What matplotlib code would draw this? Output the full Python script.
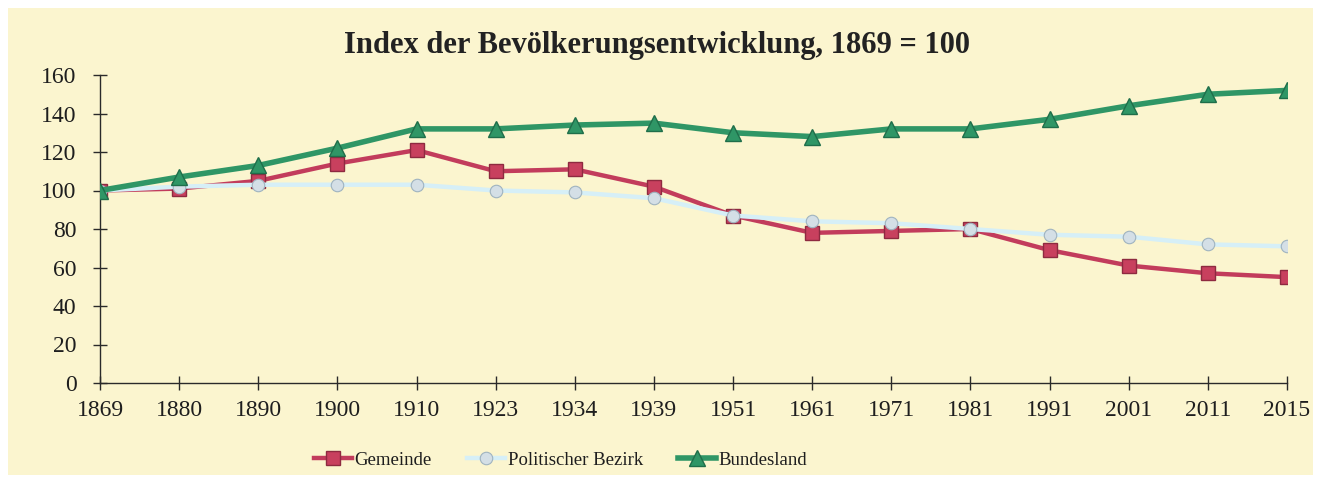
import matplotlib
matplotlib.use("Agg")
import matplotlib.pyplot as plt
from matplotlib.patches import Rectangle

years = ['1869', '1880', '1890', '1900', '1910', '1923', '1934', '1939',
         '1951', '1961', '1971', '1981', '1991', '2001', '2011', '2015']
gemeinde = [100, 101, 105, 114, 121, 110, 111, 102, 87, 78, 79, 80, 69, 61, 57, 55]
bezirk = [100, 102, 103, 103, 103, 100, 99, 96, 87, 84, 83, 80, 77, 76, 72, 71]
bundesland = [100, 107, 113, 122, 132, 132, 134, 135, 130, 128, 132, 132, 137, 144, 150, 152]

plt.rcParams['font.family'] = ['Liberation Serif', 'DejaVu Serif']

fig = plt.figure(figsize=(13.35, 4.79), dpi=100)
fig.patch.set_facecolor('white')
# pale yellow panel behind the chart
fig.patches.append(Rectangle((8 / 1335, 4 / 479), 1305 / 1335, 467 / 479,
                             transform=fig.transFigure, facecolor='#fbf5cf',
                             edgecolor='none', zorder=-5))

ax = fig.add_axes([100 / 1335, 1 - 383 / 479, 1187 / 1335, 308 / 479])
ax.set_facecolor('none')

x = list(range(len(years)))
ax.plot(x, gemeinde, color='#c23c5c', lw=3.2, marker='s', ms=10,
        mfc='#c8405e', mec='#8e2a40', mew=1, label='Gemeinde', zorder=3)
ax.plot(x, bezirk, color='#d6eff7', lw=3.2, marker='o', ms=9,
        mfc='#d4dfe6', mec='#9fb3bf', mew=0.8, label='Politischer Bezirk', zorder=4)
ax.plot(x, bundesland, color='#2f9666', lw=4, marker='^', ms=11,
        mfc='#2f9666', mec='#1f6e4a', mew=1, label='Bundesland', zorder=5)

ax.set_xlim(0, len(years) - 1)
ax.set_ylim(0, 160)
ax.set_xticks(x)
ax.set_xticklabels(years)
ax.set_yticks(range(0, 161, 20))
for s in ['top', 'right']:
    ax.spines[s].set_visible(False)
for s in ['left', 'bottom']:
    ax.spines[s].set_color('#2a2a2a')
    ax.spines[s].set_linewidth(1)
ax.tick_params(direction='inout', length=10, width=1, color='#2a2a2a',
               labelsize=17, labelcolor='#1e1e1e')
ax.tick_params(axis='x', pad=7)
ax.tick_params(axis='y', pad=12)

fig.text(0.492, 1 - 45 / 479, 'Index der Bevölkerungsentwicklung, 1869 = 100',
         ha='center', va='center', fontsize=22, fontweight='bold', color='#222222')

fig.legend(loc='center', bbox_to_anchor=(0.42, 1 - 460 / 479), ncol=3,
           frameon=False, fontsize=13.5, handlelength=2.0, handletextpad=0.15,
           columnspacing=1.9, labelcolor='#1e1e1e')

fig.savefig('out.png', dpi=100, facecolor='white')
